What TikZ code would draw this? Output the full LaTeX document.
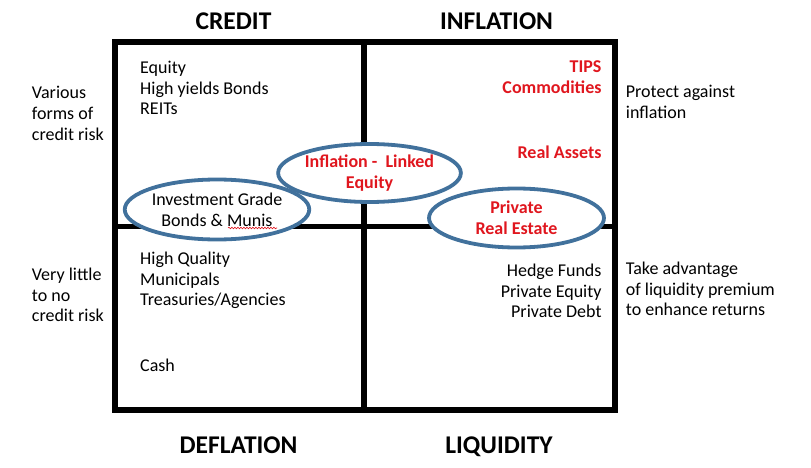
\documentclass[tikz,border=0pt]{standalone}
\usepackage{fontspec}
\setmainfont{Carlito}
\usepackage{xcolor}
\usepackage{tikz}
\usetikzlibrary{positioning,shapes.geometric,decorations.pathmorphing}
\definecolor{OvalBlue}{HTML}{41719C}
\definecolor{AssetRed}{HTML}{E0161E}
\tikzset{
  title/.style={font=\fontsize{25.5}{30}\selectfont\bfseries,inner sep=0pt,anchor=base},
  note/.style={font=\fontsize{18}{20.7}\selectfont,align=left,inner sep=0pt,anchor=base west},
  items/.style={note},
  hot/.style={font=\fontsize{18}{20.7}\selectfont\bfseries,text=AssetRed,align=right,inner sep=0pt,anchor=base east},
  grid/.style={line width=5.5pt,line join=miter},
  oval/.style={ellipse,draw=OvalBlue,line width=3.8pt,fill=white,align=center,inner sep=0pt,
    minimum width=173pt,minimum height=58pt,font=\fontsize{18}{20.7}\selectfont},
}
\begin{document}
\begin{tikzpicture}[x=1pt,y=-1pt]
\useasboundingbox (0,0) rectangle (811,468);
% quadrant frame
\draw[grid] (115,42) rectangle (615,410);
\draw[grid] (364,42) -- (364,410);
\draw[grid] (115,226.5) -- (615,226.5);

% titles
\node[title] (credit) at (233.5,29.3) {CREDIT};
\node[title] (inflation) at (496.5,29.3) {INFLATION};
\node[title] (deflation) at (238.5,453.3) {DEFLATION};
\node[title] (liquidity) at (499,453.3) {LIQUIDITY};

% side notes (anchored on the last line)
\node[note] (riskhi) at (31.7,140) {Various\\forms of\\credit risk};
\node[note] (risklo) at (31.7,321.7) {Very little\\to no\\credit risk};
\node[note] (protect) at (625.7,118.3) {Protect against\\inflation};
\node[note] (advantage) at (625.7,315.7) {Take advantage\\of liquidity premium\\to enhance returns};

% quadrant contents
\node[items] (credititems) at (140,115) {Equity\\High yields Bonds\\REITs};
\node[hot] (inflitems) at (601.7,93.3) {TIPS\\Commodities};
\node[hot] (realassets) at (601.7,158.3) {Real Assets};
\node[items] (deflitems) at (140,305.7) {High Quality\\Municipals\\Treasuries/Agencies};
\node[items] (cash) at (140,371) {Cash};
\node[items,align=right,anchor=base east] (liqitems) at (601.7,317.7) {Hedge Funds\\Private Equity\\Private Debt};

% overlaps
\node[oval,minimum width=178pt,minimum height=60pt] (igbonds) at (217,209.5) {Investment Grade\\Bonds \& Munis};
\draw[AssetRed,line width=0.6pt,decorate,decoration={snake,amplitude=0.8pt,segment length=3pt}]
  (igbonds.center) ++(11,18.5) -- ++(49,0);
\node[oval,text=AssetRed,font=\fontsize{18}{20.7}\selectfont\bfseries] (ilequity) at (369.5,173) {Inflation -~~Linked\\Equity};
\node[oval,minimum width=175pt,minimum height=59pt,text=AssetRed,font=\fontsize{18}{20.7}\selectfont\bfseries] (privre) at (516.5,218) {Private\\Real Estate};
\end{tikzpicture}
\end{document}
